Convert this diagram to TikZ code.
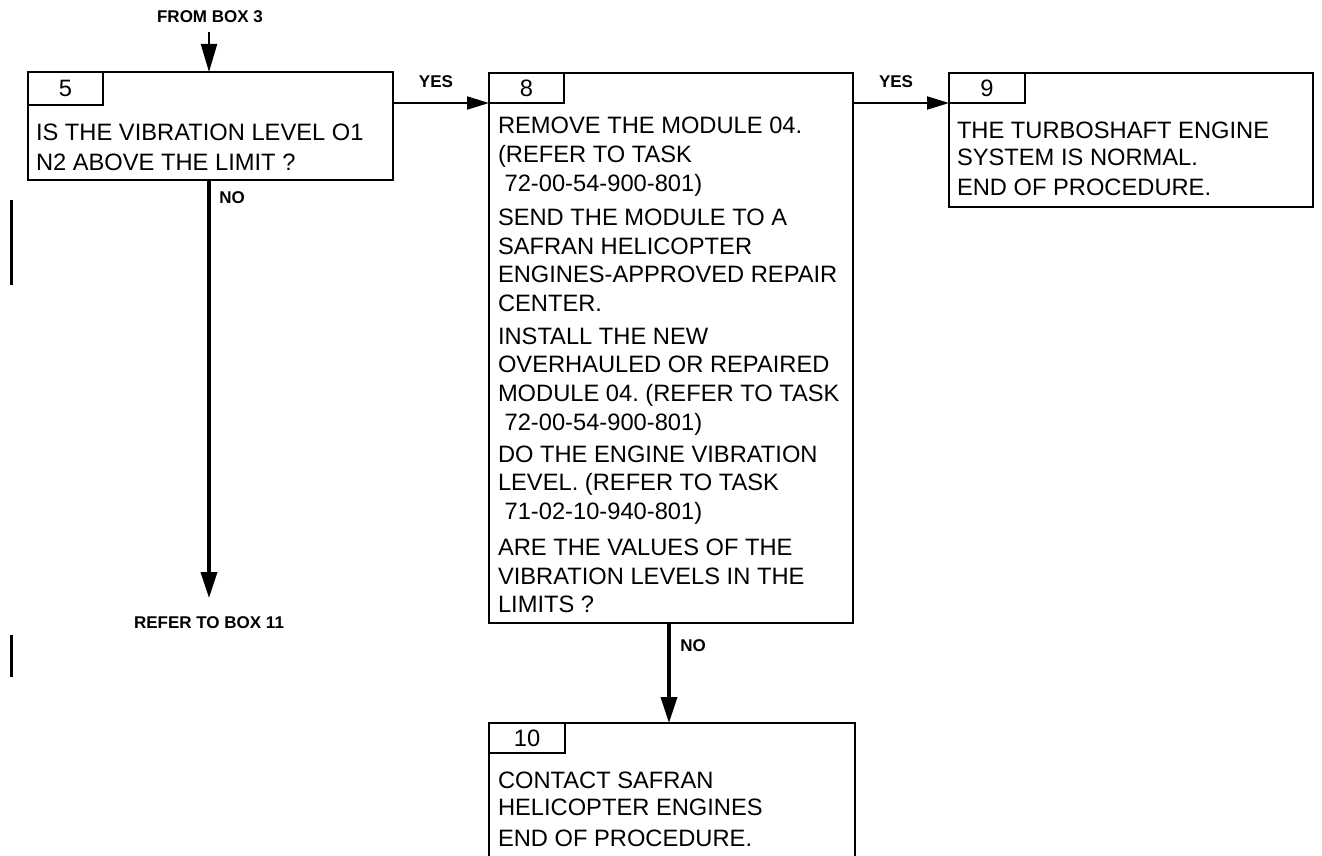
\documentclass[tikz,border=0pt]{standalone}
\usepackage{fontspec}
\setmainfont{Liberation Sans}
\usetikzlibrary{arrows.meta}
\frenchspacing
\newcommand{\boxpara}[2]{\parbox[t]{420pt}{\frenchspacing\fontsize{23.7}{#1}\selectfont #2}}
\newcommand{\indentsp}{\hspace*{6.6pt}}
\tikzset{
  frame/.style={draw, line width=2pt, inner sep=0pt, outer sep=0pt, anchor=north west},
  numtab/.style={draw, line width=2pt, inner sep=0pt, outer sep=0pt, anchor=north west, font=\fontsize{23.7}{28}\selectfont},
  body/.style={anchor=base west, inner sep=0pt, outer sep=0pt},
  lbl/.style={inner sep=0pt, font=\fontsize{17}{20}\selectfont\bfseries},
  thinarrow/.style={line width=2pt, -{Triangle[length=22pt,width=13pt]}},
  downarrow/.style={line width=2pt, -{Triangle[length=28pt,width=16pt]}},
  thickarrow/.style={line width=3.5pt, -{Triangle[length=26pt,width=16pt]}},
  sidebar/.style={line width=3pt}
}
\begin{document}
\begin{tikzpicture}[x=1pt,y=-1pt]
\clip (0,0) rectangle (1322,856);
\fill[white] (0,0) rectangle (1322,856);

% Box 5
\node[frame, minimum width=365pt, minimum height=108pt] (b5) at (28,72) {};
\node[numtab, minimum width=75pt, minimum height=33pt] (n5) at (28,72) {5};
\node[body] (t5) at (36,141) {\boxpara{30pt}{IS THE VIBRATION LEVEL O1\\N2 ABOVE THE LIMIT ?}};

% Box 8
\node[frame, minimum width=364pt, minimum height=550pt] (b8) at (489,73) {};
\node[numtab, minimum width=75pt, minimum height=30pt] (n8) at (489,73) {8};
\node[body] (t8a) at (498,133.5) {\boxpara{28.9pt}{REMOVE THE MODULE 04.\\(REFER TO TASK\\\indentsp 72-00-54-900-801)}};
\node[body] (t8b) at (498,225.5) {\boxpara{28.5pt}{SEND THE MODULE TO A\\SAFRAN HELICOPTER\\ENGINES-APPROVED REPAIR\\CENTER.}};
\node[body] (t8c) at (498,344) {\boxpara{28.7pt}{INSTALL THE NEW\\OVERHAULED OR REPAIRED\\MODULE 04. (REFER TO TASK\\\indentsp 72-00-54-900-801)}};
\node[body] (t8d) at (498,462.5) {\boxpara{28.4pt}{DO THE ENGINE VIBRATION\\LEVEL. (REFER TO TASK\\\indentsp 71-02-10-940-801)}};
\node[body] (t8e) at (498,555.5) {\boxpara{28.5pt}{ARE THE VALUES OF THE\\VIBRATION LEVELS IN THE\\LIMITS ?}};

% Box 9
\node[frame, minimum width=364pt, minimum height=134pt] (b9) at (949,73) {};
\node[numtab, minimum width=76pt, minimum height=30pt] (n9) at (949,73) {9};
\node[body] (t9a) at (957,138.5) {\boxpara{27.5pt}{THE TURBOSHAFT ENGINE\\SYSTEM IS NORMAL.}};
\node[body] (t9b) at (957,195) {\boxpara{28pt}{END OF PROCEDURE.}};

% Box 10
\node[frame, minimum width=366pt, minimum height=140pt] (b10) at (489,723) {};
\node[numtab, minimum width=76pt, minimum height=30pt] (n10) at (489,723) {10};
\node[body] (t10a) at (498,788.5) {\boxpara{26.8pt}{CONTACT SAFRAN\\HELICOPTER ENGINES}};
\node[body] (t10b) at (498,846.7) {\boxpara{28pt}{END OF PROCEDURE.}};

% Labels
\node[lbl] (from3) at (210,17) {FROM BOX 3};
\node[lbl] (yes1) at (436,82) {YES};
\node[lbl] (yes2) at (896,82) {YES};
\node[lbl] (no1) at (232,198) {NO};
\node[lbl] (no2) at (693,646) {NO};
\node[lbl] (ref11) at (209,623) {REFER TO BOX 11};

% Connectors
\coordinate (inA) at (209,32);
\coordinate (outA) at (209,598);
\coordinate (b5top) at (209,72);
\coordinate (b5bot) at (209,180);
\draw[downarrow] (inA) -- (b5top);
\draw[thinarrow] (b5.east |- 0,103) -- (b8.west |- 0,103);
\draw[thinarrow] (b8.east |- 0,103) -- (b9.west |- 0,103);
\draw[thickarrow] (b5bot) -- (outA);
\coordinate (b8bot) at (669,623);
\coordinate (b10top) at (669,723);
\draw[thickarrow] (b8bot) -- (b10top);

% Side bars
\coordinate (s1a) at (11,200);
\coordinate (s1b) at (11,285);
\coordinate (s2a) at (11,635);
\coordinate (s2b) at (11,677);
\draw[sidebar] (s1a) -- (s1b);
\draw[sidebar] (s2a) -- (s2b);
\end{tikzpicture}
\end{document}
